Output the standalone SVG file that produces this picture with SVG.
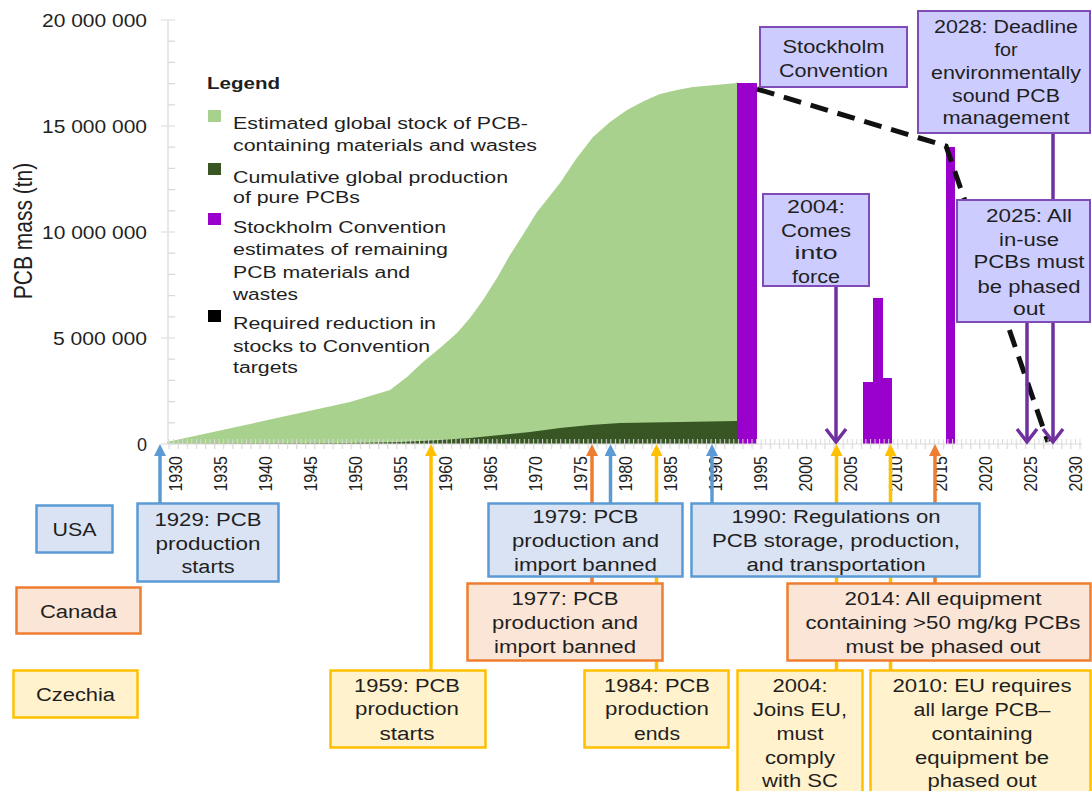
<svg xmlns="http://www.w3.org/2000/svg" width="1092" height="791" viewBox="0 0 1092 791">
<defs>
<style>
text{font-family:"Liberation Sans",Arial,Helvetica,sans-serif;fill:#1f1f1f}
.bx{font-size:18px;text-anchor:middle}
.lg{font-size:16px}
.yr{font-size:16px;text-anchor:end}
.yv{font-size:18px;text-anchor:end}
.pbox{fill:#ccccff;stroke:#7f4cb8;stroke-width:2}
.ubox{fill:#dae3f3;stroke:#5b9bd5;stroke-width:2.5}
.cbox{fill:#fbe5d6;stroke:#ed7d31;stroke-width:2.5}
.zbox{fill:#fff2cc;stroke:#ffc000;stroke-width:2.5}
.ap{stroke:#7030a0;stroke-width:3.5;fill:none;marker-end:url(#chev)}
.ab{stroke:#5b9bd5;stroke-width:3.5;marker-end:url(#tb)}
.ao{stroke:#ed7d31;stroke-width:3.5;marker-end:url(#to)}
.ay{stroke:#ffc000;stroke-width:3.5;marker-end:url(#ty)}
.grid{stroke:#d9d9d9;stroke-width:1.2;fill:none}
</style>
<marker id="chev" viewBox="0 0 18 24" refX="15" refY="12" markerWidth="18" markerHeight="24" markerUnits="userSpaceOnUse" orient="auto"><path d="M2,2 L15,12 L2,22" fill="none" stroke="#7030a0" stroke-width="3.5"/></marker>
<marker id="tb" viewBox="0 0 12 12" refX="6" refY="6" markerWidth="12" markerHeight="12" markerUnits="userSpaceOnUse" orient="auto"><path d="M0,0 L12,6 L0,12 z" fill="#5b9bd5"/></marker>
<marker id="to" viewBox="0 0 12 12" refX="6" refY="6" markerWidth="12" markerHeight="12" markerUnits="userSpaceOnUse" orient="auto"><path d="M0,0 L12,6 L0,12 z" fill="#ed7d31"/></marker>
<marker id="ty" viewBox="0 0 12 12" refX="6" refY="6" markerWidth="12" markerHeight="12" markerUnits="userSpaceOnUse" orient="auto"><path d="M0,0 L12,6 L0,12 z" fill="#ffc000"/></marker>
<pattern id="tkup" x="168.5" y="0" width="4.555" height="10" patternUnits="userSpaceOnUse"><rect width="1" height="10" fill="#d9d9d9"/></pattern>
<pattern id="tkdn" x="168.5" y="0" width="9.11" height="10" patternUnits="userSpaceOnUse"><rect width="1.2" height="10" fill="#d9d9d9"/></pattern>
</defs>
<rect width="1092" height="791" fill="#ffffff"/>

<g id="chart">
<path d="M167,444 L167,442 L250,424 L350,402 L390,390 L407,377 L423,362 L440,348 L457,333 L470,318 L483,300 L497,278 L510,255 L524,233 L537,212 L549,197 L560,183 L576,159 L593,137 L610,122 L627,110 L644,101 L660,94 L677,90 L693,87 L715,85 L737,83 L737,444 Z" fill="#a9d18e"/>
<path d="M167,444 L350,443 L400,442 L440,440 L470,438 L500,435 L530,432 L560,428 L590,425 L620,423 L680,422 L737,421 L737,444 Z" fill="#375623"/>
<rect x="737" y="83" width="20" height="361" fill="#9900cc"/>
<rect x="863" y="382" width="10" height="62" fill="#9900cc"/>
<rect x="873" y="298" width="10" height="146" fill="#9900cc"/>
<rect x="883" y="378" width="9" height="66" fill="#9900cc"/>
<rect x="946" y="147" width="9" height="297" fill="#9900cc"/>
<path d="M757,89 L946,146 L1048,442" fill="none" stroke="#111" stroke-width="5" stroke-dasharray="18 10"/>
</g>

<g id="axes">
<line class="grid" x1="168" y1="20" x2="168" y2="444"/>
<path class="grid" d="M161,20H175 M168,41.2H175 M168,62.4H175 M168,83.6H175 M168,104.8H175 M161,126H175 M168,147.2H175 M168,168.4H175 M168,189.6H175 M168,210.8H175 M161,232H175 M168,253.2H175 M168,274.4H175 M168,295.6H175 M168,316.8H175 M161,338H175 M168,359.2H175 M168,380.4H175 M168,401.6H175 M168,422.8H175 M161,444H175"/>
<line class="grid" x1="168" y1="444" x2="1082" y2="444"/>
<rect x="168" y="439" width="914" height="5" fill="url(#tkup)"/>
<rect x="168" y="444" width="914" height="5" fill="url(#tkdn)"/>
<text class="yv" x="147" y="27" textLength="105" lengthAdjust="spacingAndGlyphs">20 000 000</text>
<text class="yv" x="147" y="133" textLength="105" lengthAdjust="spacingAndGlyphs">15 000 000</text>
<text class="yv" x="147" y="239" textLength="105" lengthAdjust="spacingAndGlyphs">10 000 000</text>
<text class="yv" x="147" y="345" textLength="94" lengthAdjust="spacingAndGlyphs">5 000 000</text>
<text class="yv" x="147" y="451">0</text>
<text transform="translate(32,231) scale(1.2,1) rotate(-90)" font-size="21" text-anchor="middle">PCB mass (tn)</text>
<text class="yr" transform="translate(182,456) scale(1.2,1) rotate(-90)">1930</text>
<text class="yr" transform="translate(227,456) scale(1.2,1) rotate(-90)">1935</text>
<text class="yr" transform="translate(272,456) scale(1.2,1) rotate(-90)">1940</text>
<text class="yr" transform="translate(317,456) scale(1.2,1) rotate(-90)">1945</text>
<text class="yr" transform="translate(362,456) scale(1.2,1) rotate(-90)">1950</text>
<text class="yr" transform="translate(407,456) scale(1.2,1) rotate(-90)">1955</text>
<text class="yr" transform="translate(452,456) scale(1.2,1) rotate(-90)">1960</text>
<text class="yr" transform="translate(497,456) scale(1.2,1) rotate(-90)">1965</text>
<text class="yr" transform="translate(542,456) scale(1.2,1) rotate(-90)">1970</text>
<text class="yr" transform="translate(587,456) scale(1.2,1) rotate(-90)">1975</text>
<text class="yr" transform="translate(632,456) scale(1.2,1) rotate(-90)">1980</text>
<text class="yr" transform="translate(677,456) scale(1.2,1) rotate(-90)">1985</text>
<text class="yr" transform="translate(722,456) scale(1.2,1) rotate(-90)">1990</text>
<text class="yr" transform="translate(767,456) scale(1.2,1) rotate(-90)">1995</text>
<text class="yr" transform="translate(812,456) scale(1.2,1) rotate(-90)">2000</text>
<text class="yr" transform="translate(857,456) scale(1.2,1) rotate(-90)">2005</text>
<text class="yr" transform="translate(902,456) scale(1.2,1) rotate(-90)">2010</text>
<text class="yr" transform="translate(947,456) scale(1.2,1) rotate(-90)">2015</text>
<text class="yr" transform="translate(992,456) scale(1.2,1) rotate(-90)">2020</text>
<text class="yr" transform="translate(1037,456) scale(1.2,1) rotate(-90)">2025</text>
<text class="yr" transform="translate(1082,456) scale(1.2,1) rotate(-90)">2030</text>
</g>

<g id="legend">
<text x="207" y="89" font-size="17" font-weight="bold" textLength="73" lengthAdjust="spacingAndGlyphs">Legend</text>
<rect x="208" y="110" width="13" height="12" fill="#a9d18e"/>
<rect x="208" y="163" width="13" height="12" fill="#375623"/>
<rect x="208" y="213" width="13" height="12" fill="#9900cc"/>
<rect x="208" y="310" width="13" height="12" fill="#000000"/>
<text class="lg" x="233" y="129" textLength="295" lengthAdjust="spacingAndGlyphs">Estimated global stock of PCB-</text>
<text class="lg" x="233" y="151" textLength="304" lengthAdjust="spacingAndGlyphs">containing materials and wastes</text>
<text class="lg" x="233" y="183" textLength="275" lengthAdjust="spacingAndGlyphs">Cumulative global production</text>
<text class="lg" x="233" y="203" textLength="127" lengthAdjust="spacingAndGlyphs">of pure PCBs</text>
<text class="lg" x="233" y="233" textLength="213" lengthAdjust="spacingAndGlyphs">Stockholm Convention</text>
<text class="lg" x="233" y="255" textLength="215" lengthAdjust="spacingAndGlyphs">estimates of remaining</text>
<text class="lg" x="233" y="278" textLength="177" lengthAdjust="spacingAndGlyphs">PCB materials and</text>
<text class="lg" x="233" y="300" textLength="65" lengthAdjust="spacingAndGlyphs">wastes</text>
<text class="lg" x="233" y="329" textLength="203" lengthAdjust="spacingAndGlyphs">Required reduction in</text>
<text class="lg" x="233" y="352" textLength="197" lengthAdjust="spacingAndGlyphs">stocks to Convention</text>
<text class="lg" x="233" y="373" textLength="65" lengthAdjust="spacingAndGlyphs">targets</text>
</g>

<g id="connectors">
<line class="ap" x1="836" y1="286" x2="836" y2="442"/>
<line class="ap" x1="1027" y1="322" x2="1027" y2="442"/>
<line class="ap" x1="1053" y1="133" x2="1053" y2="442"/>
<line class="ab" x1="160" y1="503" x2="160" y2="450"/>
<line class="ay" x1="431" y1="670" x2="431" y2="450"/>
<line class="ao" x1="592" y1="583" x2="592" y2="450"/>
<line class="ab" x1="610.5" y1="503" x2="610.5" y2="450"/>
<line class="ay" x1="656.5" y1="670" x2="656.5" y2="450"/>
<line class="ab" x1="712" y1="503" x2="712" y2="450"/>
<line class="ay" x1="836.5" y1="670" x2="836.5" y2="450"/>
<line class="ay" x1="890.5" y1="670" x2="890.5" y2="450"/>
<line class="ao" x1="935" y1="583" x2="935" y2="450"/>
</g>

<g id="box-stockholm">
<rect class="pbox" x="760" y="27" width="147" height="60"/>
<text class="bx" x="833.5" y="53" textLength="102" lengthAdjust="spacingAndGlyphs">Stockholm</text>
<text class="bx" x="833.5" y="77" textLength="109" lengthAdjust="spacingAndGlyphs">Convention</text>
</g>
<g id="box-2028">
<rect class="pbox" x="918" y="11" width="172" height="122"/>
<text class="bx" x="1006" y="33" textLength="144" lengthAdjust="spacingAndGlyphs">2028: Deadline</text>
<text class="bx" x="1006" y="56" textLength="23" lengthAdjust="spacingAndGlyphs">for</text>
<text class="bx" x="1006" y="79" textLength="150" lengthAdjust="spacingAndGlyphs">environmentally</text>
<text class="bx" x="1006" y="102" textLength="108" lengthAdjust="spacingAndGlyphs">sound PCB</text>
<text class="bx" x="1006" y="124" textLength="127" lengthAdjust="spacingAndGlyphs">management</text>
</g>
<g id="box-2004-sc">
<rect class="pbox" x="763" y="194" width="106" height="92"/>
<text class="bx" x="816" y="213" textLength="58" lengthAdjust="spacingAndGlyphs">2004:</text>
<text class="bx" x="816" y="237" textLength="70" lengthAdjust="spacingAndGlyphs">Comes</text>
<text class="bx" x="816" y="259" textLength="43" lengthAdjust="spacingAndGlyphs">into</text>
<text class="bx" x="816" y="283" textLength="48" lengthAdjust="spacingAndGlyphs">force</text>
</g>
<g id="box-2025">
<rect class="pbox" x="957" y="200" width="133" height="122"/>
<text class="bx" x="1029" y="222" textLength="86" lengthAdjust="spacingAndGlyphs">2025: All</text>
<text class="bx" x="1029" y="246" textLength="60" lengthAdjust="spacingAndGlyphs">in-use</text>
<text class="bx" x="1029" y="268" textLength="111" lengthAdjust="spacingAndGlyphs">PCBs must</text>
<text class="bx" x="1029" y="293" textLength="103" lengthAdjust="spacingAndGlyphs">be phased</text>
<text class="bx" x="1029" y="315" textLength="32" lengthAdjust="spacingAndGlyphs">out</text>
</g>

<g id="label-usa">
<rect class="ubox" x="36.5" y="505.5" width="76" height="47"/>
<text class="bx" x="74.5" y="536" textLength="44" lengthAdjust="spacingAndGlyphs">USA</text>
</g>
<g id="label-canada">
<rect class="cbox" x="16.5" y="587.5" width="124" height="46"/>
<text class="bx" x="78.5" y="618" textLength="77" lengthAdjust="spacingAndGlyphs">Canada</text>
</g>
<g id="label-czechia">
<rect class="zbox" x="13.5" y="670.5" width="124" height="47"/>
<text class="bx" x="75.5" y="701" textLength="79" lengthAdjust="spacingAndGlyphs">Czechia</text>
</g>

<g id="box-usa-1929">
<rect class="ubox" x="137.5" y="503.5" width="141" height="78"/>
<text class="bx" x="208" y="526" textLength="107" lengthAdjust="spacingAndGlyphs">1929: PCB</text>
<text class="bx" x="208" y="550" textLength="105" lengthAdjust="spacingAndGlyphs">production</text>
<text class="bx" x="208" y="573" textLength="53" lengthAdjust="spacingAndGlyphs">starts</text>
</g>
<g id="box-usa-1979">
<rect class="ubox" x="488.5" y="503.5" width="194" height="73"/>
<text class="bx" x="585.5" y="523" textLength="106" lengthAdjust="spacingAndGlyphs">1979: PCB</text>
<text class="bx" x="585.5" y="547" textLength="147" lengthAdjust="spacingAndGlyphs">production and</text>
<text class="bx" x="585.5" y="571" textLength="143" lengthAdjust="spacingAndGlyphs">import banned</text>
</g>
<g id="box-usa-1990">
<rect class="ubox" x="691.5" y="503.5" width="288" height="73"/>
<text class="bx" x="836" y="523" textLength="209" lengthAdjust="spacingAndGlyphs">1990: Regulations on</text>
<text class="bx" x="836" y="547" textLength="248" lengthAdjust="spacingAndGlyphs">PCB storage, production,</text>
<text class="bx" x="836" y="571" textLength="179" lengthAdjust="spacingAndGlyphs">and transportation</text>
</g>
<g id="box-canada-1977">
<rect class="cbox" x="467.5" y="583.5" width="195" height="77"/>
<text class="bx" x="565" y="605" textLength="107" lengthAdjust="spacingAndGlyphs">1977: PCB</text>
<text class="bx" x="565" y="629" textLength="146" lengthAdjust="spacingAndGlyphs">production and</text>
<text class="bx" x="565" y="653" textLength="142" lengthAdjust="spacingAndGlyphs">import banned</text>
</g>
<g id="box-canada-2014">
<rect class="cbox" x="787.5" y="583.5" width="303" height="77"/>
<text class="bx" x="943" y="605" textLength="197" lengthAdjust="spacingAndGlyphs">2014: All equipment</text>
<text class="bx" x="943" y="629" textLength="275" lengthAdjust="spacingAndGlyphs">containing &gt;50 mg/kg PCBs</text>
<text class="bx" x="943" y="653" textLength="195" lengthAdjust="spacingAndGlyphs">must be phased out</text>
</g>
<g id="box-czechia-1959">
<rect class="zbox" x="330.5" y="670.5" width="155" height="77"/>
<text class="bx" x="407" y="692" textLength="106" lengthAdjust="spacingAndGlyphs">1959: PCB</text>
<text class="bx" x="407" y="715" textLength="104" lengthAdjust="spacingAndGlyphs">production</text>
<text class="bx" x="407" y="740" textLength="55" lengthAdjust="spacingAndGlyphs">starts</text>
</g>
<g id="box-czechia-1984">
<rect class="zbox" x="584.5" y="670.5" width="144" height="77"/>
<text class="bx" x="657" y="692" textLength="106" lengthAdjust="spacingAndGlyphs">1984: PCB</text>
<text class="bx" x="657" y="715" textLength="104" lengthAdjust="spacingAndGlyphs">production</text>
<text class="bx" x="657" y="740" textLength="46" lengthAdjust="spacingAndGlyphs">ends</text>
</g>
<g id="box-czechia-2004">
<rect class="zbox" x="737.5" y="670.5" width="125" height="130"/>
<text class="bx" x="800" y="692" textLength="55" lengthAdjust="spacingAndGlyphs">2004:</text>
<text class="bx" x="800" y="716" textLength="94" lengthAdjust="spacingAndGlyphs">Joins EU,</text>
<text class="bx" x="800" y="740" textLength="47" lengthAdjust="spacingAndGlyphs">must</text>
<text class="bx" x="800" y="764" textLength="70" lengthAdjust="spacingAndGlyphs">comply</text>
<text class="bx" x="800" y="787" textLength="76" lengthAdjust="spacingAndGlyphs">with SC</text>
</g>
<g id="box-czechia-2010">
<rect class="zbox" x="870.5" y="670.5" width="220" height="130"/>
<text class="bx" x="982" y="692" textLength="179" lengthAdjust="spacingAndGlyphs">2010: EU requires</text>
<text class="bx" x="982" y="716" textLength="137" lengthAdjust="spacingAndGlyphs">all large PCB–</text>
<text class="bx" x="982" y="740" textLength="101" lengthAdjust="spacingAndGlyphs">containing</text>
<text class="bx" x="982" y="764" textLength="134" lengthAdjust="spacingAndGlyphs">equipment be</text>
<text class="bx" x="982" y="787" textLength="109" lengthAdjust="spacingAndGlyphs">phased out</text>
</g>
</svg>
